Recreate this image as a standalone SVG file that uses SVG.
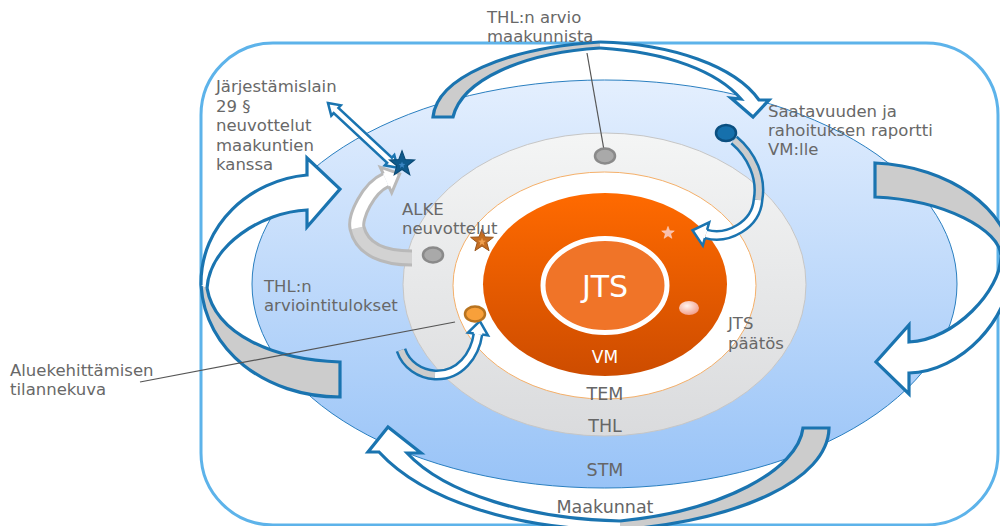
<svg xmlns="http://www.w3.org/2000/svg" width="1000" height="526" viewBox="0 0 1000 526">
<defs>
  <linearGradient id="gBlue" x1="0" y1="0" x2="0" y2="1">
    <stop offset="0" stop-color="#e4effe"/>
    <stop offset="1" stop-color="#98c3f7"/>
  </linearGradient>
  <linearGradient id="gGray" x1="0" y1="0" x2="0" y2="1">
    <stop offset="0" stop-color="#f4f5f5"/>
    <stop offset="1" stop-color="#dadbdd"/>
  </linearGradient>
  <linearGradient id="gOrange" x1="0" y1="0" x2="0" y2="1">
    <stop offset="0" stop-color="#ff6a00"/>
    <stop offset="1" stop-color="#cd4c00"/>
  </linearGradient>
  <radialGradient id="gPink" cx="0.4" cy="0.35" r="0.7">
    <stop offset="0" stop-color="#fff4f0"/>
    <stop offset="1" stop-color="#f29a84"/>
  </radialGradient>
  <path id="star" d="M0,-12 L2.94,-4.05 L11.41,-3.71 L4.76,1.55 L7.05,9.71 L0,5 L-7.05,9.71 L-4.76,1.55 L-11.41,-3.71 L-2.94,-4.05 Z"/>
  <style>
    .lbl { font-family: "DejaVu Sans", Verdana, sans-serif; font-size: 16.5px; fill: #686868; }
    .ctr { font-family: "DejaVu Sans", Verdana, sans-serif; font-size: 17.5px; fill: #666666; text-anchor: middle; }
    .wht { font-family: "DejaVu Sans", Verdana, sans-serif; fill: #ffffff; text-anchor: middle; }
    .big { stroke: #1a74b0; stroke-width: 3.2; stroke-linejoin: miter; }
    .tail { fill: #cccccc; }
    .head { fill: #ffffff; }
    .bandOut { fill: none; stroke: #1a74b0; stroke-width: 11; }
    .bandIn { fill: none; stroke-width: 6; }
    .gOut { fill: none; stroke: #b9b9b9; stroke-width: 17; }
    .gIn { fill: none; stroke-width: 11; }
    .lead { stroke: #555555; stroke-width: 1.2; fill: none; }
  </style>
</defs>

<g id="frame">
  <rect x="201" y="43" width="797" height="482" rx="72" ry="72" fill="#ffffff" stroke="#5db3ea" stroke-width="3"/>
</g>

<g id="node-stm">
  <ellipse cx="604.5" cy="284" rx="352.5" ry="204" fill="url(#gBlue)" stroke="#2a7fc0" stroke-width="1"/>
</g>
<g id="node-thl">
  <ellipse cx="604.5" cy="284.5" rx="201.5" ry="151.5" fill="url(#gGray)" stroke="#c6c6c6" stroke-width="1"/>
</g>
<g id="node-tem">
  <ellipse cx="604.5" cy="285.5" rx="151.5" ry="113.5" fill="#ffffff" stroke="#f5b06a" stroke-width="1"/>
</g>
<g id="node-vm">
  <ellipse cx="605" cy="284.5" rx="122" ry="91.5" fill="url(#gOrange)"/>
</g>
<g id="node-jts">
  <ellipse cx="605" cy="285.5" rx="62" ry="47" fill="#f07428" stroke="#ffffff" stroke-width="5"/>
  <text class="wht" x="605" y="297" font-size="30">JTS</text>
</g>

<g id="connectors">
  <!-- top arrow -->
  <path class="big tail" d="M600 48 C522 53 462 80 453 117 L433 117 C437 78 505 48 600 42"/>
  <path class="big head" d="M600 42 C672 44 735 66 759 100 L769 100 L753 117 L731 98 L741 99 C718 72 668 52 600 48"/>
  <!-- right arrow -->
  <path class="big tail" d="M1001 256 C1000 230 945 200 875 197 L875 163 C950 166 1010 210 1012 262"/>
  <path class="big head" d="M1012 262 C1012 320 960 372 909 373 L909 394 L876 362 L909 325 L909 342 C955 340 1001 290 1001 256"/>
  <!-- bottom arrow -->
  <path class="big tail" d="M620 521 C722 511 798 470 803 428 L829 428 C828 480 740 520 620 530"/>
  <path class="big head" d="M620 530 C520 530 425 502 379 452 L368 452 L388 427 L421 453 L407 453 C445 494 530 519 620 521"/>
  <!-- left arrow -->
  <path class="big tail" d="M207 288 C215 335 275 360 340 362 L340 397 C265 397 205 350 201 285"/>
  <path class="big head" d="M201 285 C200 225 250 180 307 175 L307 158 L340 189 L307 227 L307 210 C262 212 210 245 207 288"/>

  <!-- small blue arrow from report dot -->
  <path class="bandOut" d="M734 140 C752 155 762 178 758 200 C756 225 728 240 706 234"/>
  <path class="bandIn" stroke="#cccccc" d="M734 140 C752 155 762 178 758 200"/>
  <path class="bandIn" stroke="#ffffff" d="M758 200 C756 225 728 240 706 234"/>
  <path fill="#ffffff" stroke="#1a74b0" stroke-width="2.5" d="M707.1 229.9 L709.2 222.4 L692.5 230.3 L702.8 245.6 L704.9 238.1"/>

  <!-- small blue arrow to orange dot -->
  <path class="bandOut" d="M401 350 C406 365 420 374 435 375 C460 376 475 355 478 334"/>
  <path class="bandIn" stroke="#cccccc" d="M401 350 C406 365 420 374 435 375"/>
  <path class="bandIn" stroke="#ffffff" d="M435 375 C460 376 475 355 478 334"/>
  <path fill="#ffffff" stroke="#1a74b0" stroke-width="2.5" d="M473.8 333.4 L468 332.6 L479.8 321.1 L488 335.4 L482.2 334.6"/>

  <!-- gray ALKE arrow -->
  <path class="gOut" d="M412 258 C385 258 362 250 357 228 C354.5 217 368 188 386 180"/>
  <path class="gIn" stroke="#d2d2d2" d="M412 258 C385 258 362 250 357 228"/>
  <path class="gIn" stroke="#ffffff" d="M357 228 C354.5 217 368 188 386 180"/>
  <path fill="#ffffff" stroke="#b9b9b9" stroke-width="3" d="M383.2 173.6 L380.3 167.2 L399.7 173.9 L391.7 192.8 L388.8 186.4"/>

  <!-- double arrow -->
  <path fill="#ffffff" stroke="#1a74b0" stroke-width="2.5" transform="translate(328,103) rotate(42.9)" d="M0 0 L11 -7 L11 -3.5 L84 -3.5 L84 -7 L95 0 L84 7 L84 3.5 L11 3.5 L11 7 Z"/>

  <!-- leader lines -->
  <line class="lead" x1="140" y1="382" x2="455" y2="322"/>
  <line class="lead" x1="587" y1="53" x2="604" y2="150"/>
</g>

<g id="dot-thl-arvio">
  <ellipse cx="605" cy="156" rx="10" ry="7.5" fill="#a9a9a9" stroke="#8a8a8a" stroke-width="2.5"/>
</g>
<g id="dot-alke">
  <ellipse cx="433" cy="255" rx="10" ry="7.5" fill="#a9a9a9" stroke="#8a8a8a" stroke-width="2.5"/>
</g>
<g id="dot-raportti">
  <ellipse cx="726" cy="133" rx="10" ry="8" fill="#1670ac" stroke="#0b4f80" stroke-width="2.5"/>
</g>
<g id="dot-tilannekuva">
  <ellipse cx="475" cy="314" rx="10" ry="7.5" fill="#f8a03a" stroke="#b8731f" stroke-width="2.5"/>
</g>
<g id="dot-paatos">
  <ellipse cx="689" cy="308" rx="10" ry="7" fill="url(#gPink)"/>
</g>

<g id="star-jarjestamislain">
  <use href="#star" transform="translate(402,164) scale(1.1)" fill="#0f5a8c" stroke="#0a4a75" stroke-width="1"/>
  <use href="#star" transform="translate(402,165) scale(0.3)" fill="#3a86c4"/>
</g>
<g id="star-alke">
  <use href="#star" transform="translate(482,241)" fill="#c46d22" stroke="#9a5418" stroke-width="1"/>
  <use href="#star" transform="translate(482,242) scale(0.35)" fill="#f0a050"/>
</g>
<g id="star-vm">
  <use href="#star" transform="translate(668,233) scale(0.55)" fill="#f8c0ae" stroke="#ffd8cc" stroke-width="1"/>
</g>

<g id="labels">
  <text class="lbl" x="216" y="92">Järjestämislain</text>
  <text class="lbl" x="216" y="111.5">29 §</text>
  <text class="lbl" x="216" y="131">neuvottelut</text>
  <text class="lbl" x="216" y="150.5">maakuntien</text>
  <text class="lbl" x="216" y="170">kanssa</text>

  <text class="lbl" x="487" y="23">THL:n arvio</text>
  <text class="lbl" x="487" y="42">maakunnista</text>

  <text class="lbl" x="768" y="117">Saatavuuden ja</text>
  <text class="lbl" x="768" y="136">rahoituksen raportti</text>
  <text class="lbl" x="768" y="155">VM:lle</text>

  <text class="lbl" x="402" y="215">ALKE</text>
  <text class="lbl" x="402" y="234">neuvottelut</text>

  <text class="lbl" x="264" y="292">THL:n</text>
  <text class="lbl" x="264" y="311">arviointitulokset</text>

  <text class="lbl" x="10" y="376">Aluekehittämisen</text>
  <text class="lbl" x="10" y="395">tilannekuva</text>

  <text class="lbl" x="728" y="329">JTS</text>
  <text class="lbl" x="728" y="349">päätös</text>

  <text class="wht" x="605" y="363" font-size="17">VM</text>
  <text class="ctr" x="605" y="400">TEM</text>
  <text class="ctr" x="605" y="432">THL</text>
  <text class="ctr" x="605" y="476">STM</text>
  <text class="ctr" x="605" y="513">Maakunnat</text>
</g>
</svg>
